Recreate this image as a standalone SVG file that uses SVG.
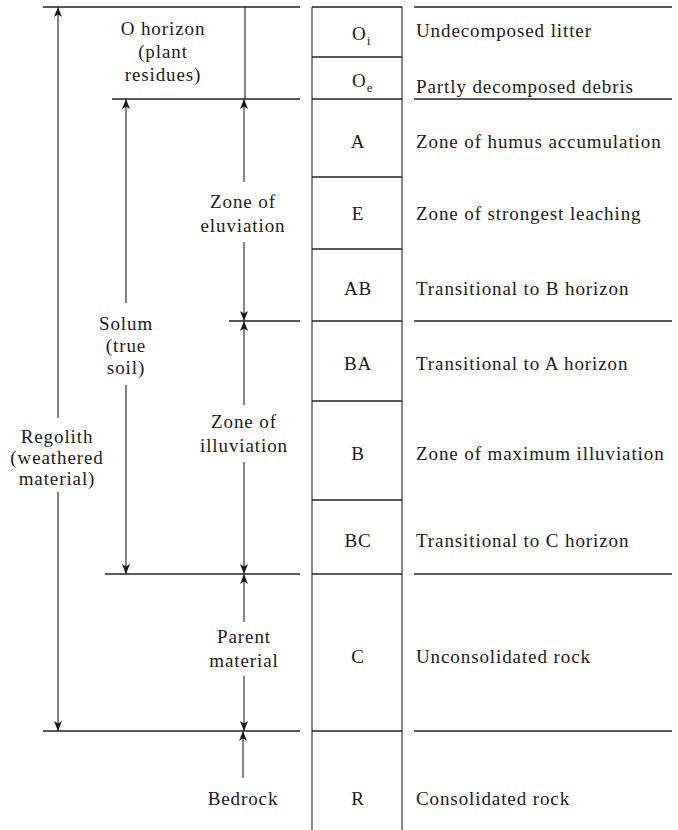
<svg xmlns="http://www.w3.org/2000/svg" width="678" height="830" viewBox="0 0 678 830">
  <style>
    text { font-family: "Liberation Serif", "Times New Roman", serif; font-size: 19px; letter-spacing: 0.9px; fill: #1a1a1a; }
    .mid { text-anchor: middle; }
    .rule { stroke: #222; stroke-width: 1.4; fill: none; }
    .side { stroke: #555; stroke-width: 1.4; fill: none; }
    .dim { stroke: #333; stroke-width: 1.2; fill: none; marker-end: url(#tip); }
    .plain { stroke: #333; stroke-width: 1.2; fill: none; }
  </style>
  <defs>
    <marker id="tip" viewBox="0 0 10 8" refX="10" refY="4" markerWidth="11" markerHeight="8" markerUnits="userSpaceOnUse" orient="auto">
      <path d="M0,0 L10,4 L0,8 L2.5,4 z" fill="#1a1a1a"/>
    </marker>
  </defs>
  <rect width="678" height="830" fill="#fff"/>

  <!-- horizon column -->
  <g id="column">
    <line class="side" x1="312" y1="7" x2="312" y2="830"/>
    <line class="side" x1="402" y1="7" x2="402" y2="830"/>
    <line class="rule" x1="312" y1="7" x2="402" y2="7"/>
    <line class="rule" x1="312" y1="57" x2="402" y2="57"/>
    <line class="rule" x1="312" y1="99" x2="402" y2="99"/>
    <line class="rule" x1="312" y1="177" x2="402" y2="177"/>
    <line class="rule" x1="312" y1="249" x2="402" y2="249"/>
    <line class="rule" x1="312" y1="321" x2="402" y2="321"/>
    <line class="rule" x1="312" y1="401" x2="402" y2="401"/>
    <line class="rule" x1="312" y1="500" x2="402" y2="500"/>
    <line class="rule" x1="312" y1="574" x2="402" y2="574"/>
    <line class="rule" x1="312" y1="731" x2="402" y2="731"/>
  </g>

  <!-- boundary rules beside the column -->
  <g id="rules">
    <line class="rule" x1="43" y1="7" x2="300" y2="7"/>
    <line class="rule" x1="414" y1="7" x2="672" y2="7"/>
    <line class="rule" x1="112" y1="99" x2="300" y2="99"/>
    <line class="rule" x1="414" y1="99" x2="672" y2="99"/>
    <line class="rule" x1="229" y1="321" x2="300" y2="321"/>
    <line class="rule" x1="414" y1="321" x2="672" y2="321"/>
    <line class="rule" x1="105" y1="574" x2="300" y2="574"/>
    <line class="rule" x1="414" y1="574" x2="672" y2="574"/>
    <line class="rule" x1="43" y1="731" x2="300" y2="731"/>
    <line class="rule" x1="414" y1="731" x2="672" y2="731"/>
  </g>

  <!-- horizons -->
  <g id="horizon-Oi">
    <text x="352" y="40">O<tspan font-size="13" dy="5">i</tspan></text>
    <text x="416" y="37">Undecomposed litter</text>
  </g>
  <g id="horizon-Oe">
    <text x="352" y="87">O<tspan font-size="13" dy="5">e</tspan></text>
    <text x="416" y="93">Partly decomposed debris</text>
  </g>
  <g id="horizon-A">
    <text class="mid" x="358" y="148">A</text>
    <text x="416" y="148">Zone of humus accumulation</text>
  </g>
  <g id="horizon-E">
    <text class="mid" x="358" y="220">E</text>
    <text x="416" y="220">Zone of strongest leaching</text>
  </g>
  <g id="horizon-AB">
    <text class="mid" x="358" y="295">AB</text>
    <text x="416" y="295">Transitional to B horizon</text>
  </g>
  <g id="horizon-BA">
    <text class="mid" x="358" y="370">BA</text>
    <text x="416" y="370">Transitional to A horizon</text>
  </g>
  <g id="horizon-B">
    <text class="mid" x="358" y="460">B</text>
    <text x="416" y="460">Zone of maximum illuviation</text>
  </g>
  <g id="horizon-BC">
    <text class="mid" x="358" y="547">BC</text>
    <text x="416" y="547">Transitional to C horizon</text>
  </g>
  <g id="horizon-C">
    <text class="mid" x="358" y="663">C</text>
    <text x="416" y="663">Unconsolidated rock</text>
  </g>
  <g id="horizon-R">
    <text class="mid" x="358" y="805">R</text>
    <text x="416" y="805">Consolidated rock</text>
  </g>

  <!-- group labels -->
  <g id="label-o-horizon">
    <text class="mid" x="163" y="35">O horizon</text>
    <text class="mid" x="163" y="58">(plant</text>
    <text class="mid" x="163" y="81">residues)</text>
  </g>
  <g id="label-regolith">
    <text class="mid" x="57" y="443">Regolith</text>
    <text class="mid" x="57" y="464">(weathered</text>
    <text class="mid" x="57" y="485">material)</text>
  </g>
  <g id="label-solum">
    <text class="mid" x="126" y="330">Solum</text>
    <text class="mid" x="126" y="352">(true</text>
    <text class="mid" x="126" y="374">soil)</text>
  </g>
  <g id="label-eluviation">
    <text class="mid" x="243" y="208">Zone of</text>
    <text class="mid" x="243" y="232">eluviation</text>
  </g>
  <g id="label-illuviation">
    <text class="mid" x="244" y="428">Zone of</text>
    <text class="mid" x="244" y="452">illuviation</text>
  </g>
  <g id="label-parent">
    <text class="mid" x="244" y="643">Parent</text>
    <text class="mid" x="244" y="667">material</text>
  </g>
  <g id="label-bedrock">
    <text class="mid" x="243" y="805">Bedrock</text>
  </g>

  <!-- extent arrows -->
  <g id="connectors">
    <line class="plain" x1="245" y1="7" x2="245" y2="99"/>
    <line class="dim" x1="58" y1="418" x2="58" y2="7"/>
    <line class="dim" x1="58" y1="492" x2="58" y2="731"/>
    <line class="dim" x1="126" y1="303" x2="126" y2="99"/>
    <line class="dim" x1="126" y1="385" x2="126" y2="574"/>
    <line class="dim" x1="244" y1="182" x2="244" y2="99"/>
    <line class="dim" x1="244" y1="242" x2="244" y2="321"/>
    <line class="dim" x1="244" y1="405" x2="244" y2="321"/>
    <line class="dim" x1="244" y1="462" x2="244" y2="574"/>
    <line class="dim" x1="244" y1="622" x2="244" y2="574"/>
    <line class="dim" x1="244" y1="676" x2="244" y2="731"/>
    <line class="dim" x1="243" y1="778" x2="243" y2="731"/>
  </g>
</svg>
